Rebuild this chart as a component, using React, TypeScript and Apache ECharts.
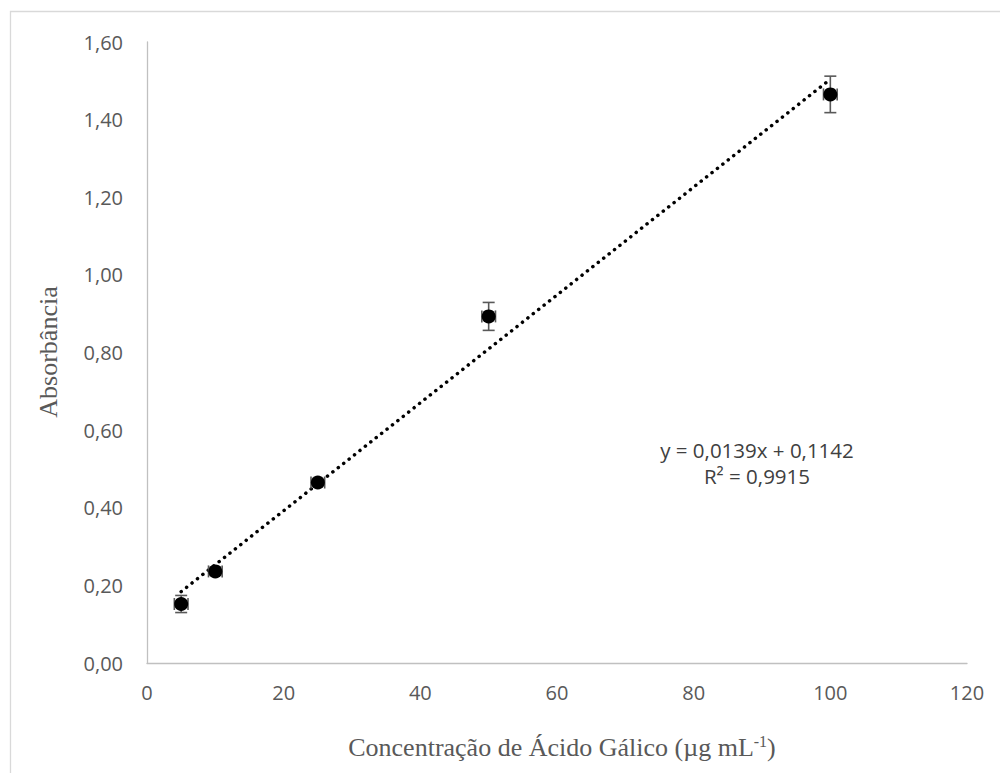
import React, { useEffect, useRef } from "react";
import * as echarts from "echarts";

const concentrations = [5, 10, 25, 50, 100];
const absorbances = [0.152, 0.236, 0.465, 0.893, 1.465];
const absErrors = [0.022, 0.01, 0.008, 0.036, 0.047];
const concErrors = [1, 1, 1, 1, 1];
const trendX = [5, 100];
const trendY = [0.184, 1.504];
const equationText = "y = 0,0139x + 0,1142";
const r2Text = "R² = 0,9915";
const xTitle = "Concentração de Ácido Gálico (µg mL";
const yTitle = "Absorbância";

export default function App() {
  const ref = useRef<HTMLDivElement>(null);
  useEffect(() => {
    document.body.style.margin = "0";
    const chart = echarts.init(ref.current!, null, { renderer: "svg" });
    const points = concentrations.map((x, i) => [x, absorbances[i]]);
    const errData = concentrations.map((x, i) => [x, absorbances[i], absErrors[i], concErrors[i]]);
    const trend = trendX.map((x, i) => [x, trendY[i]]);
    const errColor = "#595959";
    chart.setOption({
      animation: false,
      backgroundColor: "#ffffff",
      grid: { left: 147, top: 42, right: 33, bottom: 110, containLabel: false },
      xAxis: {
        type: "value",
        min: 0,
        max: 120,
        interval: 20,
        axisLine: { show: true, lineStyle: { color: "#c0c0c0", width: 1.3 } },
        axisTick: { show: false },
        splitLine: { show: false },
        axisLabel: {
          color: "#595959",
          fontSize: 20,
          fontFamily: "Open Sans",
          margin: 19,
        },
      },
      yAxis: {
        type: "value",
        min: 0,
        max: 1.6,
        interval: 0.2,
        axisLine: { show: true, lineStyle: { color: "#c0c0c0", width: 1.3 } },
        axisTick: { show: false },
        splitLine: { show: false },
        axisLabel: {
          color: "#595959",
          fontSize: 20,
          fontFamily: "Open Sans",
          margin: 24,
          formatter: (v: number) => v.toFixed(2).replace(".", ","),
        },
      },
      graphic: [
        {
          type: "rect",
          shape: { x: 10.5, y: 11.5, width: 1100, height: 900 },
          style: { fill: "none", stroke: "#d9d9d9", lineWidth: 1.3 },
          silent: true,
          z: -10,
        },
        {
          type: "text",
          x: 562,
          y: 747,
          style: {
            text: "{a|" + xTitle + "}{s|-1}{a|)}",
            align: "center",
            verticalAlign: "middle",
            rich: {
              a: { fontFamily: "Liberation Serif", fontSize: 26, fill: "#595959", lineHeight: 28 },
              s: { fontFamily: "Liberation Serif", fontSize: 16, fill: "#595959", verticalAlign: "top", lineHeight: 28, padding: [0, 0, 12, 0] },
            },
          },
        },
        {
          type: "text",
          x: 48,
          y: 352,
          rotation: Math.PI / 2,
          style: {
            text: yTitle,
            align: "center",
            verticalAlign: "middle",
            fontFamily: "Liberation Serif",
            fontSize: 26,
            fill: "#595959",
          },
        },
        {
          type: "text",
          x: 757,
          y: 450,
          style: {
            text: equationText,
            align: "center",
            verticalAlign: "middle",
            fontFamily: "Open Sans",
            fontSize: 20.5,
            lineHeight: 24,
            fill: "#404040",
          },
        },
        {
          type: "text",
          x: 757,
          y: 476,
          style: {
            text: r2Text,
            align: "center",
            verticalAlign: "middle",
            fontFamily: "Open Sans",
            fontSize: 20.5,
            lineHeight: 24,
            fill: "#404040",
          },
        },
      ],
      series: [
        {
          type: "line",
          data: trend,
          symbol: "none",
          z: 1,
          lineStyle: { color: "#000000", width: 3.5, type: [0.1, 6.8], cap: "round" },
        },
        {
          type: "custom",
          z: 2,
          data: errData,
          renderItem: (params: any, api: any) => {
            const x = api.value(0);
            const y = api.value(1);
            const ye = api.value(2);
            const xe = api.value(3);
            const top = api.coord([x, y + ye]);
            const bot = api.coord([x, y - ye]);
            const left = api.coord([x - xe, y]);
            const right = api.coord([x + xe, y]);
            const cap = 6;
            const st = { stroke: errColor, lineWidth: 1.6 };
            return {
              type: "group",
              children: [
                { type: "line", shape: { x1: top[0], y1: top[1], x2: bot[0], y2: bot[1] }, style: st },
                { type: "line", shape: { x1: top[0] - cap, y1: top[1], x2: top[0] + cap, y2: top[1] }, style: st },
                { type: "line", shape: { x1: bot[0] - cap, y1: bot[1], x2: bot[0] + cap, y2: bot[1] }, style: st },
                { type: "line", shape: { x1: left[0], y1: left[1], x2: right[0], y2: right[1] }, style: st },
                { type: "line", shape: { x1: left[0], y1: left[1] - cap, x2: left[0], y2: left[1] + cap }, style: st },
                { type: "line", shape: { x1: right[0], y1: right[1] - cap, x2: right[0], y2: right[1] + cap }, style: st },
              ],
            };
          },
        },
        {
          type: "scatter",
          data: points,
          z: 3,
          symbol: "circle",
          symbolSize: 14,
          itemStyle: { color: "#000000", opacity: 1 },
        },
      ],
    });
    return () => chart.dispose();
  }, []);
  return <div ref={ref} style={{ width: 1000, height: 773 }} />;
}
